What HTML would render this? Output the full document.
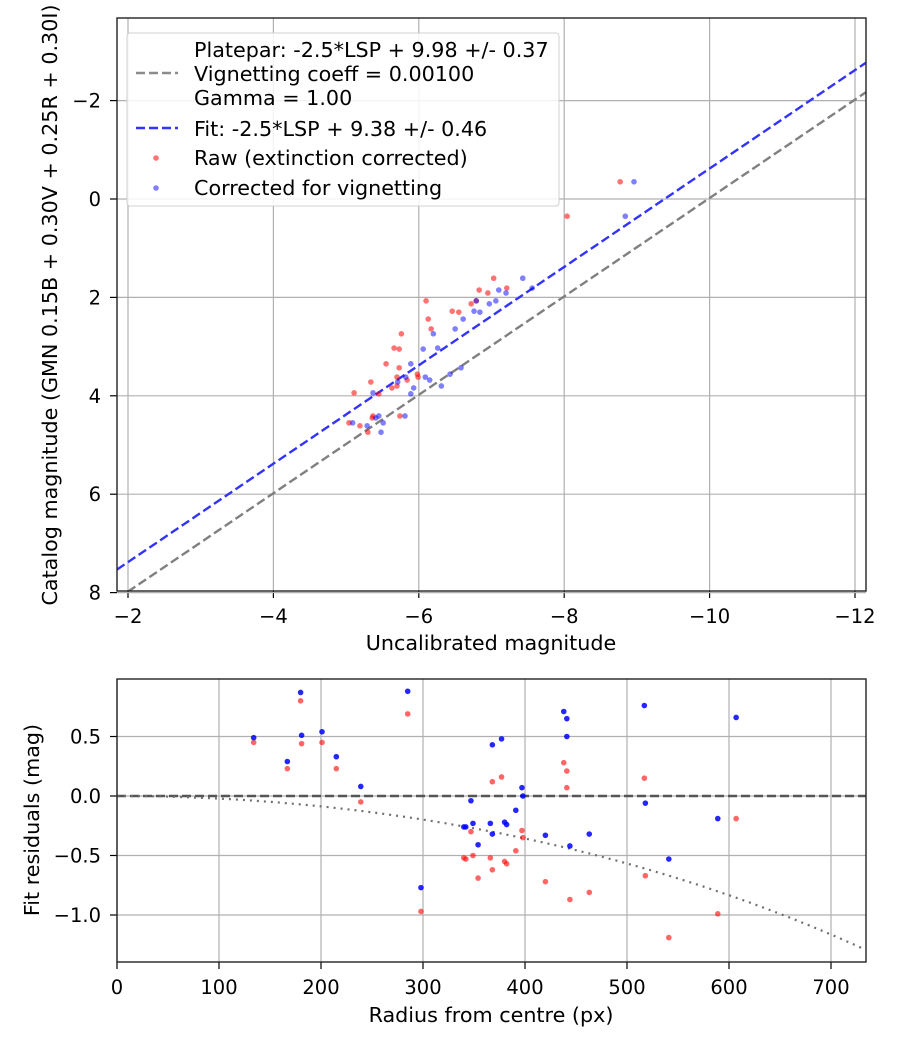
<!DOCTYPE html>
<html><head><meta charset="utf-8"><style>
body{margin:0;background:#fff;}
svg{display:block;font-family:"DejaVu Sans","Liberation Sans",sans-serif;}
</style></head><body>
<svg id="fig" width="900" height="1050" viewBox="0 0 900 1050"></svg>
<script>
// ---- Top chart data ----
const topXTicks = [-2, -4, -6, -8, -10, -12];
const topYTicks = [-2, 0, 2, 4, 6, 8];
const platepaOffset = 9.98;
const fitOffset = 9.38;
const rawX = [-7.03,-6.83,-6.95,-7.21,-6.10,-6.72,-6.79,-6.46,-6.55,-6.13,-6.17,-5.76,-5.66,-5.73,-5.55,-5.73,-5.34,-5.70,-5.98,-5.99,-5.84,-5.63,-5.70,-5.45,-5.11,-5.37,-5.36,-5.74,-5.04,-5.19,-5.30,-8.77,-8.04];
const rawY = [1.61,1.85,1.91,1.81,2.07,2.13,2.07,2.28,2.30,2.44,2.64,2.74,3.03,3.05,3.35,3.43,3.72,3.62,3.56,3.62,3.68,3.84,3.80,3.96,3.94,4.41,4.45,4.41,4.55,4.61,4.74,-0.35,0.35];
const corX = [-7.43,-7.10,-7.20,-7.56,-6.79,-6.97,-7.06,-6.76,-6.84,-6.61,-6.50,-6.20,-6.06,-6.26,-5.89,-5.82,-6.09,-6.15,-5.71,-6.31,-5.93,-5.89,-5.37,-6.58,-6.43,-5.81,-5.45,-5.41,-5.51,-5.09,-5.29,-5.48,-8.96,-8.84];
const corY = [1.61,1.85,1.91,1.81,2.07,2.13,2.07,2.28,2.30,2.44,2.64,2.74,3.05,3.03,3.35,3.62,3.62,3.68,3.72,3.80,3.84,3.96,3.94,3.43,3.56,4.41,4.41,4.45,4.55,4.55,4.61,4.74,-0.35,0.35];
// ---- Bottom chart data ----
const resXTicks = [0, 100, 200, 300, 400, 500, 600, 700];
const resYTicks = [0.5, 0.0, -0.5, -1.0];
const radius = [134,167,180,181,201,215,239,285,298,340,342,347,349,354,366,368,368,377,397,398,391,380,382,420,444,463,438,441,441,517,518,541,589,607];
const resRaw = [0.45,0.23,0.80,0.44,0.45,0.23,-0.05,0.69,-0.97,-0.52,-0.53,-0.30,-0.50,-0.69,-0.52,-0.62,0.12,0.16,-0.29,-0.35,-0.46,-0.55,-0.57,-0.72,-0.87,-0.81,0.28,0.21,0.07,0.15,-0.67,-1.19,-0.99,-0.19];
const resCor = [0.49,0.29,0.87,0.51,0.54,0.33,0.08,0.88,-0.77,-0.26,-0.26,-0.04,-0.23,-0.41,-0.23,-0.32,0.43,0.48,0.07,0.0,-0.12,-0.22,-0.24,-0.33,-0.42,-0.32,0.71,0.65,0.50,0.76,-0.06,-0.53,-0.19,0.66];
const vignCoeff = 0.001;

const NS = "http://www.w3.org/2000/svg";
const svg = document.getElementById('fig');
const FS = 20.7;   // titles, legend
const TS = 19.5;   // tick labels
function mk(tag, attrs, parent, text){
  const e = document.createElementNS(NS, tag);
  for (const k in attrs) e.setAttribute(k, attrs[k]);
  if (text !== undefined) e.textContent = text;
  (parent || svg).appendChild(e);
  return e;
}
function fmt(v, d){ const s = v.toFixed(d); return s.replace('-', '\u2212'); }

const T = {l:117, r:866, t:18, b:591};
const tx = v => 128 + (-2 - v) * 72.7;
const ty = v => 199 + v * 49.2;
const B = {l:117, r:866, t:679, b:962};
const bx = v => 117 + v * 1.02;
const by = v => 796 - v * 119;

const gTop = mk('g', {});


const clipT = mk('clipPath', {id:'ct'}); mk('rect', {x:T.l, y:T.t, width:T.r-T.l, height:T.b-T.t}, clipT);
const clipB = mk('clipPath', {id:'cb'}); mk('rect', {x:B.l, y:B.t, width:B.r-B.l, height:B.b-B.t}, clipB);

topXTicks.forEach(v => {
  const x = tx(v);
  const gl = mk('line', {x1:x, x2:x, y1:T.t, y2:T.b, stroke:'#b0b0b0', 'stroke-width':1.2}, gTop);
  
  
  mk('line', {x1:x, x2:x, y1:T.b, y2:T.b+7, stroke:'#000', 'stroke-width':1.2}, gTop);
  const t = mk('text', {x:x, y:T.b+32, 'text-anchor':'middle', 'font-size':TS}, gTop, fmt(v,0));
  
  
});
topYTicks.forEach(v => {
  const y = ty(v);
  const gl = mk('line', {x1:T.l, x2:T.r, y1:y, y2:y, stroke:'#b0b0b0', 'stroke-width':1.2}, gTop);
  
  
  mk('line', {x1:T.l-7, x2:T.l, y1:y, y2:y, stroke:'#000', 'stroke-width':1.2}, gTop);
  const t = mk('text', {x:T.l-16, y:y+7, 'text-anchor':'end', 'font-size':TS}, gTop, fmt(v,0));
  
  
});
const gTopData = mk('g', {'clip-path':'url(#ct)'}, gTop);
const x0 = -1.85, x1 = -12.15;
const lp = mk('line', {x1:tx(x0), y1:ty(x0+platepaOffset), x2:tx(x1), y2:ty(x1+platepaOffset), stroke:'#808080', 'stroke-width':2.4, 'stroke-dasharray':'9,4'}, gTopData);


const lf = mk('line', {x1:tx(x0), y1:ty(x0+fitOffset), x2:tx(x1), y2:ty(x1+fitOffset), stroke:'#3333ff', 'stroke-width':2.4, 'stroke-dasharray':'9,4'}, gTopData);


rawX.forEach((v,i) => {
  const c = mk('circle', {cx:tx(v), cy:ty(rawY[i]), r:2.8, fill:'#ff0000', 'fill-opacity':0.55}, gTopData);
  
  
});
corX.forEach((v,i) => {
  const c = mk('circle', {cx:tx(v), cy:ty(corY[i]), r:2.8, fill:'#0000ff', 'fill-opacity':0.5}, gTopData);
  
  
});
mk('rect', {x:T.l, y:T.t, width:T.r-T.l, height:T.b-T.t, fill:'none', stroke:'#222', 'stroke-width':1.4}, gTop);
const xl = mk('text', {x:491, y:650, 'text-anchor':'middle', 'font-size':FS}, gTop, 'Uncalibrated magnitude');


const yl = mk('text', {x:0, y:0, 'text-anchor':'middle', 'font-size':FS, transform:'translate(57,305) rotate(-90)'}, gTop, 'Catalog magnitude (GMN 0.15B + 0.30V + 0.25R + 0.30I)');



const gLeg = mk('g', {}, gTop);


mk('rect', {x:127, y:33, width:432, height:173, rx:3, fill:'#fff', 'fill-opacity':0.85, stroke:'#d0d0d0', 'stroke-width':1}, gLeg);
mk('line', {x1:136, x2:178, y1:73, y2:73, stroke:'#808080', 'stroke-width':2.4, 'stroke-dasharray':'9,4', opacity:0.9}, gLeg);
mk('line', {x1:136, x2:178, y1:128, y2:128, stroke:'#3333ff', 'stroke-width':2.4, 'stroke-dasharray':'9,4'}, gLeg);
mk('circle', {cx:156, cy:158, r:2.8, fill:'#ff0000', 'fill-opacity':0.55}, gLeg);
mk('circle', {cx:156, cy:188, r:2.8, fill:'#0000ff', 'fill-opacity':0.5}, gLeg);
[['Platepar: -2.5*LSP + 9.98 +/- 0.37',57],['Vignetting coeff = 0.00100',81],['Gamma = 1.00',105],['Fit: -2.5*LSP + 9.38 +/- 0.46',136],['Raw (extinction corrected)',165],['Corrected for vignetting',195]].forEach(d => {
  const t = mk('text', {x:194, y:d[1], 'font-size':FS}, gLeg, d[0]);
  
  
});

const gBot = mk('g', {});


resXTicks.forEach(v => {
  const x = bx(v);
  const gl = mk('line', {x1:x, x2:x, y1:B.t, y2:B.b, stroke:'#b0b0b0', 'stroke-width':1.2}, gBot);
  
  
  mk('line', {x1:x, x2:x, y1:B.b, y2:B.b+7, stroke:'#000', 'stroke-width':1.2}, gBot);
  const t = mk('text', {x:x, y:B.b+32, 'text-anchor':'middle', 'font-size':TS}, gBot, String(v));
  
  
});
resYTicks.forEach(v => {
  const y = by(v);
  const gl = mk('line', {x1:B.l, x2:B.r, y1:y, y2:y, stroke:'#b0b0b0', 'stroke-width':1.2}, gBot);
  
  
  mk('line', {x1:B.l-7, x2:B.l, y1:y, y2:y, stroke:'#000', 'stroke-width':1.2}, gBot);
  const t = mk('text', {x:B.l-16, y:y+7, 'text-anchor':'end', 'font-size':TS}, gBot, fmt(v,1));
  
  
});
const gBotData = mk('g', {'clip-path':'url(#cb)'}, gBot);
const zl = mk('line', {x1:B.l, x2:B.r, y1:by(0), y2:by(0), stroke:'#555', 'stroke-width':2.4, 'stroke-dasharray':'9,4'}, gBotData);


let pts = [];
for (let r = 0; r <= 730; r += 5) {
  const c = Math.cos(vignCoeff * r);
  const m = 2.5 * Math.log10(Math.pow(c, 4));
  pts.push(bx(r).toFixed(1) + ',' + by(m).toFixed(1));
}
const vc = mk('polyline', {points:pts.join(' '), fill:'none', stroke:'#707070', 'stroke-width':2.2, 'stroke-dasharray':'2,5'}, gBotData);


radius.forEach((r,i) => {
  const c = mk('circle', {cx:bx(r), cy:by(resRaw[i]), r:2.8, fill:'#ff0000', 'fill-opacity':0.6}, gBotData);
  
  
});
radius.forEach((r,i) => {
  const c = mk('circle', {cx:bx(r), cy:by(resCor[i]), r:2.8, fill:'#0000ff', 'fill-opacity':0.85}, gBotData);
  
  
});
mk('rect', {x:B.l, y:B.t, width:B.r-B.l, height:B.b-B.t, fill:'none', stroke:'#222', 'stroke-width':1.4}, gBot);
const bxl = mk('text', {x:491, y:1022, 'text-anchor':'middle', 'font-size':FS}, gBot, 'Radius from centre (px)');


const byl = mk('text', {x:0, y:0, 'text-anchor':'middle', 'font-size':FS, transform:'translate(39,820) rotate(-90)'}, gBot, 'Fit residuals (mag)');


</script>
</body></html>
